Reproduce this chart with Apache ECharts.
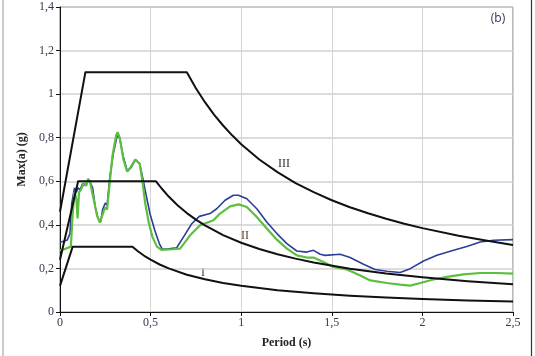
<!DOCTYPE html>
<html>
<head>
<meta charset="utf-8">
<script src="https://cdn.jsdelivr.net/npm/echarts@6/dist/echarts.min.js"></script>
<style>
  html, body { margin: 0; padding: 0; background: #fff; }
  #chart { width: 535px; height: 356px; }
</style>
</head>
<body>
<div id="chart"></div>
<script>
// x ticks / y ticks
const periodTicks = [0, 0.5, 1, 1.5, 2, 2.5];
const accelTicks = [0, 0.2, 0.4, 0.6, 0.8, 1, 1.2, 1.4];

// design spectra I, II, III  [period, max(a)]
const spectrumI = [
  [0, 0.12], [0.07, 0.3], [0.4, 0.3], [0.43, 0.279], [0.47, 0.255], [0.5, 0.24],
  [0.55, 0.218], [0.6, 0.2], [0.7, 0.171], [0.8, 0.15], [0.9, 0.133], [1.0, 0.12],
  [1.2, 0.1], [1.4, 0.086], [1.6, 0.075], [1.8, 0.067], [2.0, 0.06], [2.25, 0.053],
  [2.5, 0.048]
];
const spectrumII = [
  [0, 0.24], [0.1, 0.6], [0.53, 0.6], [0.56, 0.568], [0.6, 0.53], [0.65, 0.489],
  [0.7, 0.454], [0.75, 0.424], [0.8, 0.398], [0.9, 0.353], [1.0, 0.318], [1.1, 0.289],
  [1.2, 0.265], [1.3, 0.245], [1.4, 0.227], [1.6, 0.199], [1.8, 0.177], [2.0, 0.159],
  [2.25, 0.141], [2.5, 0.127]
];
const spectrumIII = [
  [0, 0.46], [0.14, 1.1], [0.7, 1.1], [0.75, 1.027], [0.8, 0.963], [0.85, 0.906],
  [0.9, 0.856], [0.95, 0.811], [1.0, 0.77], [1.1, 0.7], [1.2, 0.642], [1.3, 0.592],
  [1.4, 0.55], [1.5, 0.513], [1.6, 0.481], [1.7, 0.453], [1.8, 0.428], [1.9, 0.405],
  [2.0, 0.385], [2.2, 0.35], [2.35, 0.328], [2.5, 0.308]
];

// record spectra (blue / green)
const blueRecord = [
  [0, 0.32], [0.02, 0.325], [0.04, 0.33], [0.055, 0.36], [0.065, 0.5], [0.08, 0.57],
  [0.09, 0.55], [0.1, 0.57], [0.11, 0.56], [0.125, 0.59], [0.14, 0.58], [0.155, 0.61],
  [0.165, 0.6], [0.18, 0.57], [0.195, 0.48], [0.21, 0.43], [0.225, 0.415], [0.235, 0.47],
  [0.25, 0.5], [0.26, 0.49], [0.275, 0.62], [0.295, 0.73], [0.317, 0.815], [0.33, 0.795],
  [0.35, 0.71], [0.372, 0.645], [0.394, 0.665], [0.416, 0.7], [0.44, 0.68], [0.458, 0.61],
  [0.477, 0.53], [0.497, 0.45], [0.523, 0.375], [0.55, 0.31], [0.565, 0.288], [0.6, 0.29],
  [0.644, 0.295], [0.681, 0.344], [0.727, 0.405], [0.769, 0.439], [0.828, 0.452],
  [0.865, 0.474], [0.911, 0.513], [0.957, 0.536], [0.985, 0.536], [1.031, 0.52],
  [1.086, 0.474], [1.141, 0.413], [1.197, 0.36], [1.252, 0.314], [1.307, 0.28],
  [1.362, 0.275], [1.399, 0.283], [1.436, 0.265], [1.463, 0.26], [1.546, 0.265],
  [1.601, 0.25], [1.675, 0.219], [1.739, 0.195], [1.804, 0.187], [1.877, 0.181],
  [1.933, 0.199], [2.006, 0.234], [2.08, 0.26], [2.172, 0.283], [2.245, 0.301],
  [2.319, 0.321], [2.393, 0.329], [2.5, 0.332]
];
const greenRecord = [
  [0, 0.283], [0.03, 0.29], [0.06, 0.3], [0.07, 0.45], [0.08, 0.55], [0.09, 0.52],
  [0.097, 0.43], [0.105, 0.55], [0.115, 0.56], [0.13, 0.59], [0.145, 0.58], [0.155, 0.61],
  [0.165, 0.6], [0.175, 0.56], [0.19, 0.5], [0.205, 0.44], [0.22, 0.41], [0.23, 0.405],
  [0.24, 0.46], [0.25, 0.48], [0.26, 0.47], [0.275, 0.6], [0.29, 0.72], [0.31, 0.81],
  [0.317, 0.825], [0.33, 0.8], [0.35, 0.7], [0.37, 0.645], [0.39, 0.665], [0.415, 0.7],
  [0.44, 0.68], [0.455, 0.6], [0.47, 0.5], [0.49, 0.41], [0.51, 0.345], [0.535, 0.3],
  [0.56, 0.285], [0.62, 0.288], [0.663, 0.291], [0.718, 0.352], [0.773, 0.398],
  [0.847, 0.421], [0.883, 0.452], [0.939, 0.485], [0.985, 0.494], [1.031, 0.482],
  [1.086, 0.436], [1.141, 0.383], [1.197, 0.332], [1.252, 0.291], [1.307, 0.26],
  [1.362, 0.25], [1.399, 0.25], [1.454, 0.229], [1.509, 0.207], [1.583, 0.195],
  [1.657, 0.168], [1.712, 0.145], [1.804, 0.133], [1.877, 0.126], [1.933, 0.121],
  [1.988, 0.133], [2.061, 0.149], [2.135, 0.161], [2.227, 0.173], [2.319, 0.179],
  [2.411, 0.179], [2.5, 0.176]
];

const serif = "'Liberation Serif', 'DejaVu Serif', serif";
const comma = (v) => String(+v.toFixed(2)).replace(".", ",");

const chart = echarts.init(document.getElementById("chart"));

function blackLine(data) {
  return {
    type: "line",
    data: data,
    symbol: "none",
    z: 5,
    lineStyle: { color: "#111", width: 2, join: "round" },
  };
}

chart.setOption({
  animation: false,
  grid: {
    left: 60,
    right: 22,
    top: 7,
    bottom: 44,
    show: true,
    borderColor: "#777",
    borderWidth: 1,
  },
  xAxis: {
    type: "value",
    min: periodTicks[0],
    max: periodTicks[periodTicks.length - 1],
    interval: 0.5,
    name: "Period (s)",
    nameLocation: "middle",
    nameGap: 25,
    nameTextStyle: { fontFamily: serif, fontSize: 12, fontWeight: "bold", color: "#222" },
    axisLine: { lineStyle: { color: "#111", width: 1 } },
    axisTick: { length: 4, lineStyle: { color: "#111" } },
    axisLabel: { formatter: comma, fontFamily: serif, fontSize: 12, color: "#3a3450", margin: 5 },
    splitLine: { show: true, lineStyle: { color: "#d4d4d4", width: 1 } },
  },
  yAxis: {
    type: "value",
    min: accelTicks[0],
    max: accelTicks[accelTicks.length - 1],
    interval: 0.2,
    name: "Max(a) (g)",
    nameLocation: "middle",
    nameGap: 23,
    nameTextStyle: { fontFamily: serif, fontSize: 12, fontWeight: "bold", color: "#222" },
    axisLine: { show: true, lineStyle: { color: "#111", width: 1 } },
    axisTick: { show: true, length: 4, lineStyle: { color: "#111" } },
    axisLabel: { formatter: comma, fontFamily: serif, fontSize: 12, color: "#3a3450", margin: 6 },
    splitLine: { show: true, lineStyle: { color: "#d0d0d0", width: 1.5 } },
  },
  graphic: [
    { type: "line", shape: { x1: 3, y1: 0, x2: 3, y2: 356 }, style: { stroke: "#999", lineWidth: 1 } },
    { type: "line", shape: { x1: 531.5, y1: 0, x2: 531.5, y2: 356 }, style: { stroke: "#333", lineWidth: 1.2 } },
    { type: "text", x: 498, y: 19, style: { text: "(b)", font: "12px 'Open Sans', sans-serif", fill: "#3b2f5a", align: "center", verticalAlign: "middle" } },
    { type: "text", x: 284, y: 164, style: { text: "III", font: "12px " + serif, fill: "#333", align: "center", verticalAlign: "middle" } },
    { type: "text", x: 245, y: 236, style: { text: "II", font: "12px " + serif, fill: "#5a4030", align: "center", verticalAlign: "middle" } },
    { type: "text", x: 203, y: 273, style: { text: "I", font: "12px " + serif, fill: "#5a4030", align: "center", verticalAlign: "middle" } },
  ],
  series: [
    {
      type: "line",
      data: blueRecord,
      symbol: "none",
      z: 3,
      lineStyle: { color: "#2c3e98", width: 1.6 },
    },
    {
      type: "line",
      data: greenRecord,
      symbol: "none",
      z: 4,
      lineStyle: { color: "#5cbf3e", width: 2.2 },
    },
    blackLine(spectrumI),
    blackLine(spectrumII),
    blackLine(spectrumIII),
  ],
});
</script>
</body>
</html>
